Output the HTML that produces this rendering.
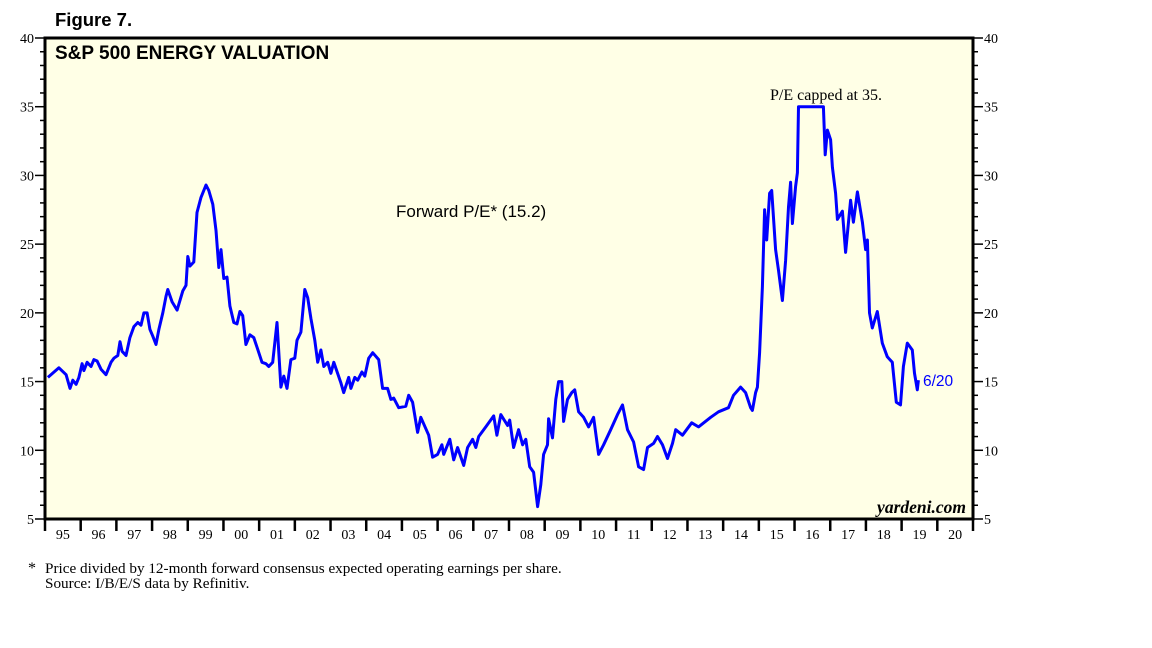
<!DOCTYPE html>
<html><head><meta charset="utf-8">
<style>
body{margin:0;background:#fff;width:1152px;height:648px;overflow:hidden;font-family:"Liberation Sans",Arial,sans-serif;}
svg{display:block}
</style></head>
<body>
<svg id="chart" width="1152" height="648" xmlns="http://www.w3.org/2000/svg"></svg>
<script>
// years since Jan 1995
const t = [0.08,0.39,0.59,0.70,0.78,0.87,0.95,1.04,1.09,1.18,1.29,1.37,1.46,1.57,1.71,1.85,1.93,2.04,2.10,2.16,2.27,2.38,2.49,2.60,2.69,2.77,2.86,2.94,3.02,3.11,3.19,3.30,3.39,3.44,3.56,3.70,3.86,3.95,4.00,4.06,4.17,4.26,4.37,4.51,4.59,4.70,4.79,4.87,4.93,5.01,5.10,5.18,5.29,5.38,5.46,5.54,5.63,5.74,5.85,5.94,6.08,6.19,6.27,6.38,6.50,6.61,6.69,6.78,6.89,7.00,7.06,7.17,7.28,7.36,7.45,7.56,7.64,7.73,7.81,7.92,8.01,8.09,8.29,8.37,8.51,8.57,8.68,8.76,8.88,8.96,9.07,9.18,9.35,9.46,9.60,9.69,9.77,9.91,10.11,10.19,10.30,10.44,10.53,10.75,10.86,11.00,11.12,11.17,11.34,11.45,11.56,11.73,11.84,11.98,12.07,12.15,12.35,12.57,12.66,12.77,12.96,13.02,13.13,13.27,13.38,13.47,13.58,13.69,13.80,13.89,13.97,14.08,14.11,14.22,14.31,14.39,14.48,14.53,14.64,14.76,14.84,14.95,15.09,15.23,15.37,15.51,15.65,15.85,16.04,16.18,16.32,16.49,16.63,16.77,16.88,17.05,17.16,17.30,17.44,17.58,17.67,17.86,18.12,18.31,18.65,18.87,19.15,19.29,19.49,19.63,19.77,19.82,19.91,19.96,20.02,20.10,20.16,20.22,20.30,20.36,20.47,20.55,20.66,20.75,20.83,20.89,20.94,21.03,21.08,21.11,21.81,21.86,21.92,22.01,22.06,22.15,22.20,22.34,22.43,22.57,22.65,22.76,22.90,22.99,23.04,23.10,23.18,23.32,23.46,23.60,23.74,23.85,23.97,24.05,24.16,24.30,24.36,24.44,24.47];
const pe = [15.3,16.0,15.5,14.5,15.1,14.8,15.3,16.3,15.8,16.4,16.1,16.6,16.5,15.9,15.5,16.4,16.7,16.9,17.9,17.2,16.9,18.2,19.0,19.3,19.1,20.0,20.0,18.8,18.3,17.7,18.8,20.0,21.2,21.7,20.8,20.2,21.6,22.0,24.1,23.4,23.7,27.3,28.4,29.3,28.9,27.9,26.0,23.3,24.6,22.5,22.6,20.5,19.3,19.2,20.1,19.8,17.7,18.4,18.2,17.5,16.4,16.3,16.1,16.4,19.3,14.6,15.4,14.5,16.6,16.7,18.0,18.6,21.7,21.1,19.6,18.0,16.4,17.3,16.1,16.4,15.6,16.4,14.9,14.2,15.3,14.5,15.3,15.1,15.7,15.4,16.7,17.1,16.6,14.5,14.5,13.7,13.8,13.1,13.2,14.0,13.5,11.3,12.4,11.1,9.5,9.7,10.4,9.7,10.8,9.3,10.2,8.9,10.2,10.8,10.2,11.0,11.7,12.5,11.1,12.6,11.8,12.2,10.2,11.5,10.4,10.8,8.8,8.4,5.9,7.5,9.7,10.4,12.3,10.9,13.7,15.0,15.0,12.1,13.7,14.2,14.4,12.8,12.4,11.7,12.4,9.7,10.4,11.5,12.6,13.3,11.5,10.6,8.8,8.6,10.2,10.5,11.0,10.4,9.4,10.5,11.5,11.1,12.0,11.7,12.4,12.8,13.1,14.0,14.6,14.2,13.1,12.9,14.2,14.6,17.1,21.9,27.5,25.3,28.7,28.9,24.6,23.1,20.9,23.8,27.7,29.5,26.5,29.2,30.2,35,35,31.5,33.3,32.6,30.6,28.7,26.8,27.4,24.4,28.2,26.6,28.8,26.6,24.6,25.3,20.0,18.9,20.1,17.8,16.8,16.4,13.5,13.3,16.1,17.8,17.3,15.6,14.4,15.1];
const yTicks = [5,10,15,20,25,30,35,40];
const yearLabels = ["95","96","97","98","99","00","01","02","03","04","05","06","07","08","09","10","11","12","13","14","15","16","17","18","19","20"];

const NS="http://www.w3.org/2000/svg";
const svg=document.getElementById('chart');
const L=45,R=973,T=38,B=519,YMIN=5,YMAX=40,NYEARS=26;
const xs=v=>L+v*(R-L)/NYEARS;
const ys=v=>B-(v-YMIN)*(B-T)/(YMAX-YMIN);
function mk(tag,attrs,parent){const e=document.createElementNS(NS,tag);for(const k in attrs)e.setAttribute(k,attrs[k]);(parent||svg).appendChild(e);return e;}
const SERIF='"Liberation Serif",serif';

const bg=mk('rect',{x:L,y:T,width:R-L,height:B-T,fill:'#ffffe6',stroke:'#000','stroke-width':3});



for(let v=YMIN;v<=YMAX;v++){
  const y=ys(v), major=(v%5===0);
  const tl=mk('line',{x1:L-(major?10:5),x2:L,y1:y,y2:y,stroke:'#000','stroke-width':1.5});
  
  
  const tr=mk('line',{x1:R,x2:R+(major?10:5),y1:y,y2:y,stroke:'#000','stroke-width':1.5});
  
  
}
yTicks.forEach(v=>{
  const a=mk('text',{x:L-11,y:ys(v)+5,'text-anchor':'end','font-size':14,'font-family':SERIF,fill:'#000'});
  a.textContent=v;
  
  
  const b=mk('text',{x:R+11,y:ys(v)+5,'font-size':14,'font-family':SERIF,fill:'#000'});
  b.textContent=v;
  
  
});
for(let i=0;i<=NYEARS;i++){
  const tk=mk('line',{x1:xs(i),x2:xs(i),y1:B,y2:B+12,stroke:'#000','stroke-width':2.5});
  
  
}
yearLabels.forEach((lab,i)=>{
  const tx=mk('text',{x:xs(i+0.5),y:B+20,'text-anchor':'middle','font-size':14,'font-family':SERIF,fill:'#000'});
  tx.textContent=lab;
  
  
});

let d='';
t.forEach((v,i)=>{d+=(i?'L':'M')+xs(v).toFixed(1)+','+ys(pe[i]).toFixed(1);});
const ln=mk('path',{d:d,fill:'none',stroke:'#0000ff','stroke-width':3,'stroke-linejoin':'round'});



function txt(s,attrs,name){const e=mk('text',attrs);e.textContent=s;return e;}
txt('Figure 7.',{x:55,y:26,'font-size':18.5,'font-weight':'bold',fill:'#000'},'figure-label');
txt('S&P 500 ENERGY VALUATION',{x:55,y:59,'font-size':19,'font-weight':'bold',fill:'#000'},'chart-title');
txt('Forward P/E* (15.2)',{x:396,y:217,'font-size':17,fill:'#000'},'series-label');
txt('P/E capped at 35.',{x:826,y:100,'font-size':16,'text-anchor':'middle','font-family':SERIF,fill:'#000'},'cap-annotation');
txt('6/20',{x:923,y:386,'font-size':15.5,fill:'#0000ff'},'last-date-label');
txt('yardeni.com',{x:966,y:513,'font-size':17.5,'text-anchor':'end','font-style':'italic','font-weight':'bold','font-family':SERIF,fill:'#000'},'source-watermark');
txt('*',{x:28,y:573,'font-size':16,'font-family':SERIF,fill:'#000'},'footnote-star');
txt('Price divided by 12-month forward consensus expected operating earnings per share.',{x:45,y:573,'font-size':15.2,'font-family':SERIF,fill:'#000'},'footnote');
txt('Source: I/B/E/S data by Refinitiv.',{x:45,y:588,'font-size':15.2,'font-family':SERIF,fill:'#000'},'source-note');
</script>
</body></html>
